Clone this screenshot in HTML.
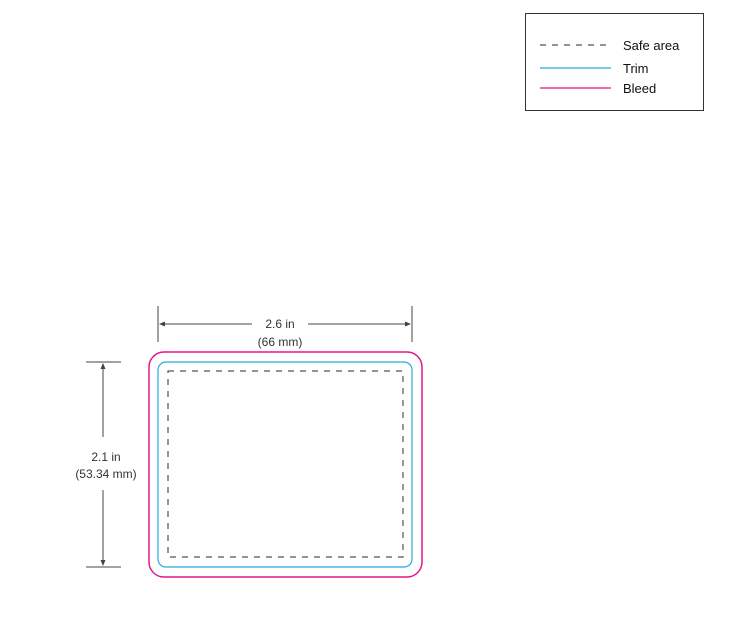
<!DOCTYPE html>
<html><head><style>html,body{margin:0;padding:0;background:#fff;width:730px;height:625px;overflow:hidden}</style></head>
<body>
<svg width="730" height="625" viewBox="0 0 730 625" xmlns="http://www.w3.org/2000/svg" font-family="Liberation Sans, sans-serif">
<rect x="525.5" y="13.5" width="178" height="97" fill="none" stroke="#333" stroke-width="1"/>
<line x1="540" y1="45" x2="611" y2="45" stroke="#555" stroke-width="1.2" stroke-dasharray="6,6"/>
<line x1="540" y1="68" x2="611" y2="68" stroke="#29a9e0" stroke-width="1.3"/>
<line x1="540" y1="88" x2="611" y2="88" stroke="#e5168a" stroke-width="1.3"/>
<text x="623" y="50" font-size="13" fill="#111">Safe area</text>
<text x="623" y="73" font-size="13" fill="#111">Trim</text>
<text x="623" y="93" font-size="13" fill="#111">Bleed</text>

<rect x="149" y="352" width="273" height="225" rx="15" fill="none" stroke="#e5168a" stroke-width="1.5"/>
<rect x="158" y="362" width="254" height="205" rx="8" fill="none" stroke="#29a9e0" stroke-width="1.2"/>
<rect x="168" y="371" width="235" height="186" fill="none" stroke="#555" stroke-width="1.2" stroke-dasharray="6,6"/>

<g stroke="#444" stroke-width="1">
<line x1="158" y1="306" x2="158" y2="342"/>
<line x1="412" y1="306" x2="412" y2="342"/>
<line x1="160" y1="324" x2="252" y2="324"/>
<line x1="308" y1="324" x2="410" y2="324"/>
<line x1="86" y1="362" x2="121" y2="362"/>
<line x1="86" y1="567" x2="121" y2="567"/>
<line x1="103" y1="364" x2="103" y2="437"/>
<line x1="103" y1="490" x2="103" y2="565"/>
</g>
<g fill="#444">
<polygon points="159,324 165,321.5 165,326.5"/>
<polygon points="411,324 405,321.5 405,326.5"/>
<polygon points="103,363 100.5,369 105.5,369"/>
<polygon points="103,566 100.5,560 105.5,560"/>
</g>
<g font-size="12" fill="#333" text-anchor="middle">
<text x="280" y="328">2.6 in</text>
<text x="280" y="346">(66 mm)</text>
<text x="106" y="461">2.1 in</text>
<text x="106" y="478">(53.34 mm)</text>
</g>
</svg>
</body></html>
